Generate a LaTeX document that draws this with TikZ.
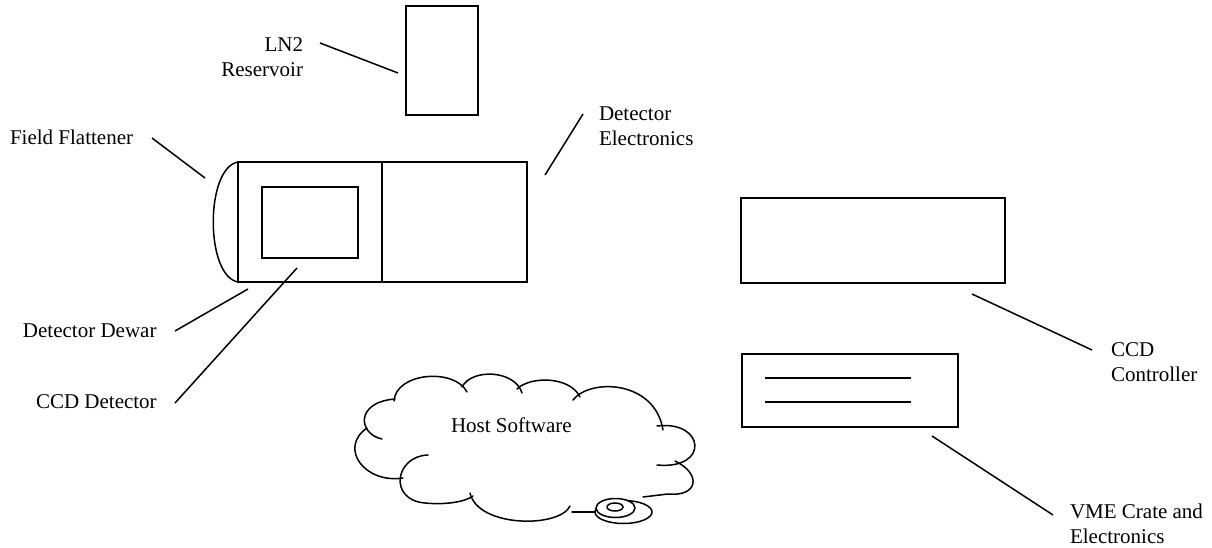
\documentclass[tikz,border=0pt]{standalone}
\usepackage{fontspec}
\setmainfont{Liberation Serif}
\usetikzlibrary{shapes.geometric}
\begin{document}
\begin{tikzpicture}[x=1pt,y=-1pt,
  every node/.style={inner sep=0pt, outer sep=0pt},
  ln/.style={line width=1.5pt},
  box/.style={draw, line width=1.5pt, rectangle, inner sep=0pt},
  lbl/.style={font=\fontsize{21}{25}\selectfont},
  cl/.style={line width=1.5pt, line cap=round}]
\useasboundingbox (0,0) rectangle (1212,548);

% boxes
\node[box, minimum width=72pt, minimum height=109pt] (ln2) at (442,60.5) {};
\node[box, minimum width=144pt, minimum height=120pt] (dewar) at (310,222) {};
\node[box, minimum width=145pt, minimum height=120pt] (elec) at (454.5,222) {};
\node[box, minimum width=96pt, minimum height=71pt] (ccd) at (310,222.5) {};
\node[box, minimum width=264pt, minimum height=85pt] (ctrl) at (873,240.5) {};
\node[box, minimum width=216pt, minimum height=73pt] (vme) at (850,390.5) {};

% field flattener
\draw[ln] (dewar.north west) .. controls (205,168) and (205,276) .. (dewar.south west);

% VME inner lines
\coordinate (v1a) at (765,378); \coordinate (v1b) at (911,378);
\coordinate (v2a) at (765,402); \coordinate (v2b) at (911,402);
\draw[ln] (v1a) -- (v1b);
\draw[ln] (v2a) -- (v2b);

% labels (multi-line nodes: base = last line)
\node[lbl, anchor=base west] (tff) at (10,145) {Field Flattener};
\node[lbl, anchor=base east, align=right] (tln2) at (303,77) {LN2\\Reservoir};
\node[lbl, anchor=base west, align=left] (tde) at (599,146) {Detector\\Electronics};
\node[lbl, anchor=base west] (tdd) at (23,337) {Detector Dewar};
\node[lbl, anchor=base west] (tccd) at (36,408) {CCD Detector};
\node[lbl, anchor=base west, align=left] (tctrl) at (1111,381) {CCD\\Controller};
\node[lbl, anchor=base west, align=left] (tvme) at (1070,543) {VME Crate and\\Electronics};
\node[lbl, anchor=base west] (thost) at (451,432) {Host Software};

% leader lines
\coordinate (ffa) at (152,138); \coordinate (ffb) at (205,178);
\coordinate (lna) at (320,43);  \coordinate (lnb) at (398,73);
\coordinate (dea) at (583,114); \coordinate (deb) at (545,175);
\coordinate (dda) at (175,331); \coordinate (ddb) at (248,289);
\coordinate (cca) at (175,403); \coordinate (ccb) at (297,268);
\coordinate (cta) at (972,294); \coordinate (ctb) at (1092,350);
\coordinate (vma) at (932,436); \coordinate (vmb) at (1053,515);
\draw[ln] (ffa) -- (ffb);
\draw[ln] (lna) -- (lnb);
\draw[ln] (dea) -- (deb);
\draw[ln] (dda) -- (ddb);
\draw[ln] (cca) -- (ccb);
\draw[ln] (cta) -- (ctb);
\draw[ln] (vma) -- (vmb);

% cloud
\draw[cl] (382,439) .. controls (358,434) and (355,402) .. (395,399);
\draw[cl] (394,401) .. controls (396,372) and (455,368) .. (467,392);
\draw[cl] (462,387) .. controls (472,368) and (515,370) .. (522,393);
\draw[cl] (517,389) .. controls (530,376) and (570,376) .. (580,397);
\draw[cl] (573,400) .. controls (590,378) and (655,380) .. (663,430);
\draw[cl] (657,426) .. controls (705,420) and (710,470) .. (657,465);
\draw[cl] (675,461) .. controls (702,474) and (698,497) .. (668,494) -- (643,497);
\draw[cl] (570,506) .. controls (560,528) and (478,528) .. (470,493);
\draw[cl] (572,512) -- (597,512);
\draw[cl] (428,455) .. controls (395,456) and (388,500) .. (425,503)
                    .. controls (445,505) and (465,502) .. (473,496);
\draw[cl] (403,478) .. controls (365,484) and (338,448) .. (367,428);

% disc
\node[draw, ln, fill=white, ellipse, minimum width=57pt, minimum height=23pt] (discb) at (623.5,512) {};
\node[draw, ln, fill=white, ellipse, minimum width=39pt, minimum height=19pt] (disct) at (615.5,508) {};
\node[draw, ln, ellipse, minimum width=16pt, minimum height=8pt] (disch) at (615,507) {};
\end{tikzpicture}
\end{document}
